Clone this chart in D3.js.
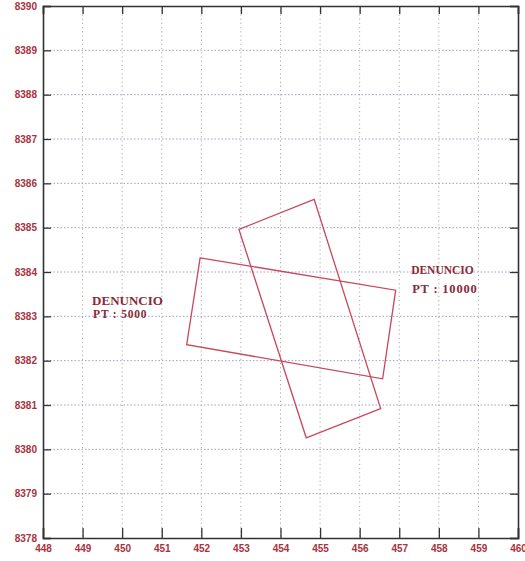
<!DOCTYPE html>
<html><head><meta charset="utf-8">
<script src="https://cdn.jsdelivr.net/npm/d3@7"></script>
<style>body{margin:0;background:#fff;}</style>
</head><body>
<script>
const xTicks = [448,449,450,451,452,453,454,455,456,457,458,459,460];
const yTicks = [8378,8379,8380,8381,8382,8383,8384,8385,8386,8387,8388,8389,8390];
const denuncio5000 = [[451.97,8384.32],[456.91,8383.59],[456.58,8381.59],[451.63,8382.36]];
const denuncio10000 = [[454.85,8385.64],[456.53,8380.92],[454.65,8380.26],[452.95,8384.96]];
const label5000 = ["DENUNCIO","PT : 5000"];
const label10000 = ["DENUNCIO","PT : 10000"];

const W=525,H=561;
const m={l:43,t:6,r:7,b:23};
const svg=d3.select("body").append("svg").attr("width",W).attr("height",H);
const x=d3.scaleLinear().domain([448,460]).range([m.l,W-m.r]);
const y=d3.scaleLinear().domain([8378,8390]).range([H-m.b,m.t]);

// grid
const g=svg.append("g");
g.selectAll(".vg").data(xTicks.slice(1,-1)).join("line")
  .attr("x1",d=>x(d)).attr("x2",d=>x(d)).attr("y1",y(8390)).attr("y2",y(8378))
  .attr("stroke","#a9a9b8").attr("stroke-width",1).attr("stroke-dasharray","1.2,3");
g.selectAll(".hg").data(yTicks.slice(1,-1)).join("line")
  .attr("x1",x(448)).attr("x2",x(460)).attr("y1",d=>y(d)).attr("y2",d=>y(d))
  .attr("stroke","#9a9fd0").attr("stroke-width",1).attr("stroke-dasharray","1.5,2");

// axes with inward ticks
const fmt=d3.format("d");
const ax=[
  d3.axisBottom(x).tickValues(xTicks).tickSize(-10).tickPadding(7).tickFormat(fmt),
  d3.axisLeft(y).tickValues(yTicks).tickSize(-8).tickPadding(6).tickFormat(fmt),
  d3.axisTop(x).tickValues(xTicks).tickSize(-8).tickFormat(""),
  d3.axisRight(y).tickValues(yTicks).tickSize(-8).tickFormat("")
];
const pos=[`translate(0,${y(8378)})`,`translate(${x(448)},0)`,`translate(0,${y(8390)})`,`translate(${x(460)},0)`];
ax.forEach((a,i)=>{
  const gg=svg.append("g").attr("transform",pos[i]).call(a);
  gg.select(".domain").attr("stroke","#333").attr("stroke-width",1.6);
  gg.selectAll(".tick line").attr("stroke","#333").attr("stroke-width",1.3);
  gg.selectAll("text").attr("fill","#a8323e").attr("font-family","Liberation Sans, Arial")
    .attr("font-weight","bold").attr("font-size",10);
});

// polygons
const line=d3.line().x(d=>x(d[0])).y(d=>y(d[1])).curve(d3.curveLinearClosed);
[denuncio5000,denuncio10000].forEach(p=>{
  svg.append("path").attr("d",line(p)).attr("fill","none")
    .attr("stroke","#c8475a").attr("stroke-width",1.3);
});

// labels
function addLabel(lines, lx, ly, sizes, gap){
  const t=svg.append("text").attr("x",x(lx)).attr("y",y(ly))
    .attr("font-family","Liberation Serif, Times New Roman, serif")
    .attr("font-weight","bold")
    .attr("fill","#8a2a38").attr("text-anchor","start");
  lines.forEach((s,i)=>t.append("tspan").attr("x",x(lx)+(i?1:0)).attr("dy",i?gap:0)
    .attr("font-size",sizes[i]).attr("letter-spacing",i?0.8:0).text(s));
}
addLabel(label5000, 449.24, 8383.25, [13,11.5], 13);
addLabel(label10000, 457.3, 8383.95, [11.5,12.5], 19);
</script>
</body></html>
